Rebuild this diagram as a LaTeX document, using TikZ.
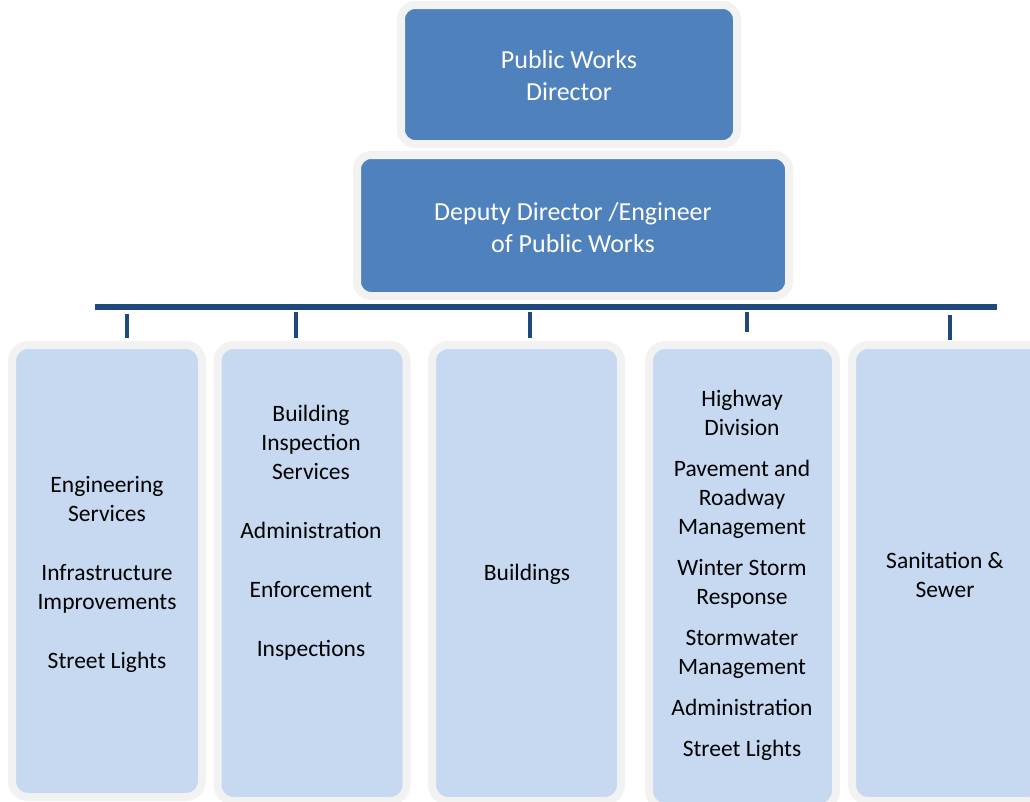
\documentclass[tikz,border=0pt]{standalone}
\usepackage{fontspec}
\setmainfont{Carlito}
\usetikzlibrary{positioning}
\definecolor{xBlue}{RGB}{79,129,189}
\definecolor{xPale}{RGB}{198,217,241}
\definecolor{xRing}{RGB}{242,242,242}
\definecolor{xNavy}{RGB}{31,73,125}
\tikzset{
  head/.style={draw=xRing, fill=xBlue, line width=8pt, rounded corners=14pt, inner sep=0pt},
  unit/.style={draw=xRing, fill=xPale, line width=8pt, rounded corners=16pt, inner sep=0pt},
  headtext/.style={text=white, align=center, font=\fontsize{26}{32}\selectfont},
  unittext/.style={align=center, font=\fontsize{23.5}{29}\selectfont},
  bus/.style={xNavy, line width=6pt},
  tick/.style={xNavy, line width=3.5pt},
}

\begin{document}
\begin{tikzpicture}[x=1pt, y=-1pt]
    \useasboundingbox (0,0) rectangle (1030,801);
    % boxes
    \node[head, minimum width=336pt, minimum height=139pt] (dir) at (569,74.5) {};
    \node[head, minimum width=432pt, minimum height=141pt] (dep) at (573,225.5) {};
    \node[unit, minimum width=190pt, minimum height=452pt] (u1) at (107,571) {};
    \node[unit, minimum width=189pt, minimum height=456pt] (u2) at (312,573) {};
    \node[unit, minimum width=189pt, minimum height=456pt] (u3) at (526.5,573) {};
    \node[unit, minimum width=187pt, minimum height=462pt] (u4) at (742.5,576) {};
    \node[unit, minimum width=193pt, minimum height=456pt] (u5) at (948.5,573) {};
    % texts
    \node[headtext] (tdir) at (569,76) {Public Works\\Director};
    \node[headtext] (tdep) at (573,227.5) {Deputy Director /Engineer\\of Public Works};
    \node[unittext] (t1) at (107,574.5) {Engineering\\Services\\[30pt]Infrastructure\\Improvements\\[30pt]Street Lights};
    \node[unittext] (t2) at (311,533) {Building\\Inspection\\Services\\[30pt]Administration\\[30pt]Enforcement\\[30pt]Inspections};
    \node[unittext] (t3) at (527,574) {Buildings};
    \node[unittext] (t4) at (742,575.5) {Highway\\Division\\[12pt]Pavement and\\Roadway\\Management\\[12pt]Winter Storm\\Response\\[12pt]Stormwater\\Management\\[12pt]Administration\\[12pt]Street Lights};
    \node[unittext] (t5) at (945,575) {Sanitation \&\\Sewer};
    % bus and ticks
    \coordinate (busL) at (95,307);
    \coordinate (busR) at (997,307);
    \draw[bus] (busL) -- (busR);
    \coordinate (k1) at (127,314);
    \coordinate (k2) at (296,312);
    \coordinate (k3) at (530,312);
    \coordinate (k4) at (747,312);
    \coordinate (k5) at (950,315);
    \draw[tick, shorten >=3pt] (k1) -- (k1 |- u1.north);
    \draw[tick, shorten >=3pt] (k2) -- (k2 |- u2.north);
    \draw[tick, shorten >=3pt] (k3) -- (k3 |- u3.north);
    \draw[tick, shorten >=9pt] (k4) -- (k4 |- u4.north);
    \draw[tick, shorten >=1pt] (k5) -- (k5 |- u5.north);
\end{tikzpicture}
\end{document}
